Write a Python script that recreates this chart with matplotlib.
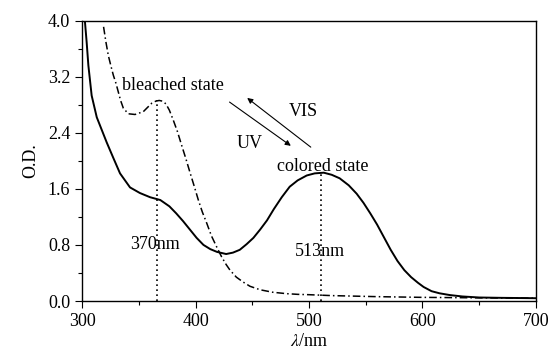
import numpy as np
import matplotlib.pyplot as plt
from matplotlib.ticker import MultipleLocator

plt.rcParams['font.family'] = ['Liberation Serif', 'DejaVu Serif']
plt.rcParams['mathtext.fontset'] = 'stix'

# colored state (solid)
wl_col = [301, 302.6, 304.1, 305.6, 308.5, 313, 317.4, 321.8, 327.6, 333.5, 342.3, 351, 360, 369,
          377, 383, 389, 395, 401, 407, 413, 419, 427, 433, 439, 445, 451, 457, 463, 469, 476,
          483, 490, 498, 505, 513, 520, 527, 535, 542, 548, 554, 560, 566, 572, 578, 584, 590,
          596, 601, 608, 615, 624, 635, 650, 670, 700]
od_col = [4.15, 3.98, 3.69, 3.36, 2.93, 2.62, 2.44, 2.26, 2.04, 1.82, 1.62, 1.54, 1.48, 1.44,
          1.35, 1.25, 1.14, 1.02, 0.90, 0.80, 0.74, 0.70, 0.67, 0.69, 0.73, 0.81, 0.90, 1.02, 1.15, 1.31, 1.48,
          1.63, 1.72, 1.79, 1.82, 1.83, 1.80, 1.75, 1.65, 1.53, 1.40, 1.25, 1.09, 0.91, 0.73, 0.57, 0.44, 0.34,
          0.26, 0.20, 0.14, 0.11, 0.085, 0.065, 0.05, 0.045, 0.04]

# bleached state (dash-dot)
wl_bl = [319, 321, 323.2, 325.5, 327.6, 330, 332, 334, 336.4, 340.8, 346.7, 354, 361.4, 365, 368,
         371, 374, 377, 380.4, 384, 387.8, 391.5, 395.2, 399, 402.5, 406, 409.9, 414, 418.7, 423,
         427, 430.4, 436, 442, 448, 457, 468, 480, 490, 500, 520, 560, 600, 650, 700]
od_bl = [3.91, 3.70, 3.50, 3.35, 3.22, 3.10, 2.98, 2.86, 2.75, 2.67, 2.66, 2.70, 2.82, 2.85, 2.86,
         2.85, 2.81, 2.72, 2.58, 2.42, 2.22, 2.03, 1.83, 1.63, 1.44, 1.27, 1.11, 0.93, 0.77, 0.63,
         0.52, 0.44, 0.34, 0.27, 0.21, 0.16, 0.125, 0.105, 0.095, 0.09, 0.077, 0.062, 0.052, 0.045, 0.04]

peaks = [366, 511]
peak_od = [2.86, 1.83]
peak_labels = ['370nm', '513nm']
label_pos = [(364, 0.81), (510, 0.70)]

fig = plt.figure(figsize=(5.56, 3.58), dpi=100)
ax = fig.add_axes([0.1475, 0.1592, 0.8165, 0.7835])

ax.plot(wl_col, od_col, color='black', lw=1.4)
ax.plot(wl_bl, od_bl, color='black', lw=1.1, linestyle=(0, (5, 2, 1, 2)))

for x, y in zip(peaks, peak_od):
    ax.plot([x, x], [0, y], color='black', lw=1.2, linestyle=(0, (1, 2)))

for (x, y), t in zip(label_pos, peak_labels):
    ax.text(x, y, t, ha='center', va='center', fontsize=13)

ax.text(335, 3.07, 'bleached state', ha='left', va='center', fontsize=13)
ax.text(512, 1.92, 'colored state', ha='center', va='center', fontsize=13)
ax.text(495, 2.70, 'VIS', ha='center', va='center', fontsize=13)
ax.text(448, 2.25, 'UV', ha='center', va='center', fontsize=13)

ax.annotate('', xy=(486, 2.19), xytext=(428, 2.86),
            arrowprops=dict(arrowstyle='-|>', color='black', lw=0.8, mutation_scale=8))
ax.annotate('', xy=(443.6, 2.92), xytext=(503.5, 2.17),
            arrowprops=dict(arrowstyle='-|>', color='black', lw=0.8, mutation_scale=8))

ax.set_xlim(300, 700)
ax.set_ylim(0, 4.0)
ax.xaxis.set_major_locator(MultipleLocator(100))
ax.xaxis.set_minor_locator(MultipleLocator(50))
ax.yaxis.set_major_locator(MultipleLocator(0.8))
ax.yaxis.set_minor_locator(MultipleLocator(0.4))
ax.yaxis.set_major_formatter(plt.FormatStrFormatter('%.1f'))
ax.tick_params(which='both', direction='out', labelsize=13, width=0.8)
ax.tick_params(which='major', length=5)
ax.tick_params(which='minor', length=3)
for s in ax.spines.values():
    s.set_linewidth(1.0)

ax.set_xlabel(r'$\lambda$/nm', fontsize=13, labelpad=2)
ax.set_ylabel('O.D.', fontsize=13, labelpad=6)

fig.savefig('out.png', dpi=100)
